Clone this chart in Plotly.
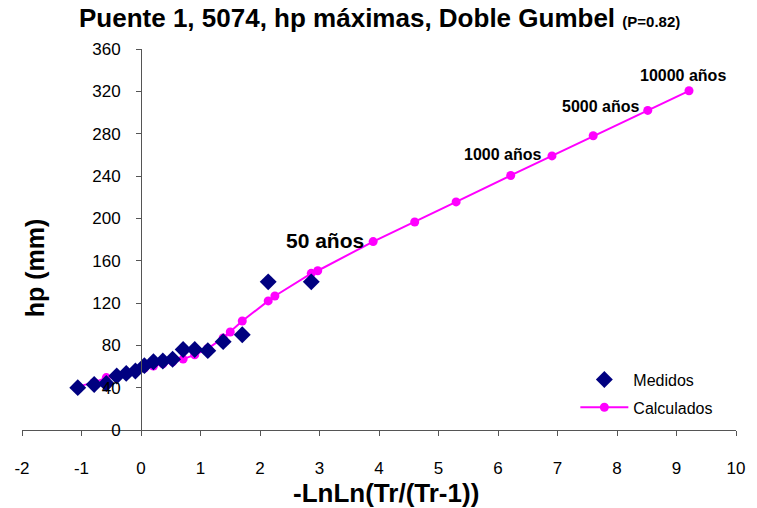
import plotly.graph_objects as go

# Measured (Medidos)
x_med = [-1.063, -0.787, -0.583, -0.408, -0.248, -0.094, 0.057, 0.209, 0.367,
         0.531, 0.708, 0.903, 1.123, 1.381, 1.702, 2.138, 2.862]
y_med = [40, 43, 44, 51, 53.5, 55.7, 60.8, 64.5, 65.2,
         66.8, 76, 76, 75, 83.5, 90, 140, 140]

# Calculated (Calculados)
x_cal = [-1.063, -0.787, -0.583, -0.408, -0.248, -0.094, 0.057, 0.209, 0.367,
         0.531, 0.708, 0.903, 1.123, 1.381, 1.500, 1.702, 2.138, 2.250,
         2.862, 2.970, 3.902, 4.600, 5.296, 6.214, 6.907, 7.600, 8.517, 9.210]
y_cal = [41, 45, 49.5, 51.5, 53.5, 56, 58.5, 60.5, 62.5,
         64.5, 67, 71, 77, 87, 92.6, 103, 122, 126.6,
         148, 150.5, 178, 196.5, 215.5, 240.5, 259, 278, 302, 320.5]

# Axis ticks
x_ticks = [-2, -1, 0, 1, 2, 3, 4, 5, 6, 7, 8, 9, 10]
x_ticktext = ["-2", "-1", "0", "1", "2", "3", "4", "5", "6", "7", "8", "9", "10"]
y_ticks = [0, 40, 80, 120, 160, 200, 240, 280, 320, 360]

# Return period labels
lab_text = ["50 años", "1000 años", "5000 años", "10000 años"]
lab_x = [3.09, 6.07, 7.73, 9.11]
lab_y = [179.5, 260, 305.5, 335]
lab_size = [21, 16, 16, 16]

FONT = "Arial, Liberation Sans, sans-serif"

fig = go.Figure()
fig.add_trace(go.Scatter(
    x=x_cal, y=y_cal, mode="lines+markers", name="Calculados",
    line=dict(color="#FF00FF", width=2),
    marker=dict(symbol="circle", size=9, color="#FF00FF"),
    legendrank=2, legendgroup="cal",
))
fig.add_trace(go.Scatter(
    x=x_med, y=y_med, mode="markers", name="Medidos",
    marker=dict(symbol="diamond", size=13, color="#000080"),
    legendrank=1, legendgroup="med",
))

for t, xx, yy, s in zip(lab_text, lab_x, lab_y, lab_size):
    fig.add_annotation(x=xx, y=yy, xref="x", yref="y", text="<b>" + t + "</b>",
                       showarrow=False, font=dict(family=FONT, size=s, color="black"))

# Title
fig.add_annotation(x=0.5, y=1.0 + (49 - 18) / 381.0, xref="paper", yref="paper",
                   yanchor="middle",
                   text="<b>Puente 1, 5074, hp máximas, Doble Gumbel "
                        "<span style='font-size:15px'>(P=0.82)</span></b>",
                   showarrow=False, font=dict(family=FONT, size=26, color="black"))
# Axis titles
fig.add_annotation(x=0.51, y=-0.165, xref="paper", yref="paper", yanchor="middle",
                   text="<b>-LnLn(Tr/(Tr-1))</b>", showarrow=False,
                   font=dict(family=FONT, size=26, color="black"))
fig.add_annotation(x=(35 - 21.7) / 720, y=0.425, xref="paper", yref="paper",
                   xanchor="center", yanchor="middle", textangle=-90,
                   text="<b>hp (mm)</b>", showarrow=False,
                   font=dict(family=FONT, size=25, color="black"))

fig.update_layout(
    width=757, height=508,
    margin=dict(l=22, r=15, t=49, b=78),
    paper_bgcolor="white", plot_bgcolor="white",
    font=dict(family=FONT, size=17, color="black"),
    showlegend=True,
    legend=dict(x=0.775, y=0.177, xanchor="left", yanchor="top",
                bgcolor="rgba(255,255,255,0)", font=dict(family=FONT, size=16),
                itemwidth=48, tracegroupgap=4),
    xaxis=dict(range=[-2, 10], tickmode="array", tickvals=x_ticks, ticktext=x_ticktext,
               showgrid=False, zeroline=False,
               showline=True, linecolor="#555555", linewidth=1,
               ticks="outside", ticklen=5, tickcolor="#555555",
               ticklabelstandoff=18),
    yaxis=dict(range=[0, 360], tickmode="array", tickvals=y_ticks,
               showgrid=False, zeroline=False,
               showline=True, linecolor="#555555", linewidth=1,
               ticks="outside", ticklen=5, tickcolor="#555555",
               anchor="free", position=2/12, ticklabelstandoff=12),
)

fig.write_html("out.html")
